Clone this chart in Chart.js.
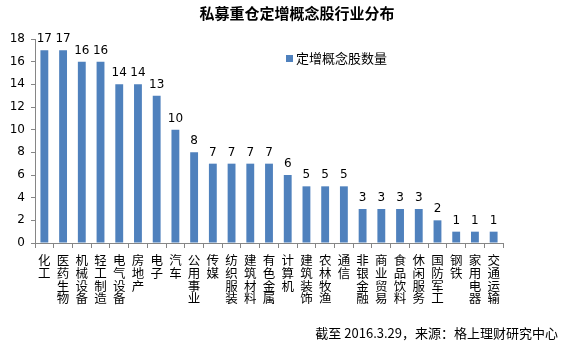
<!DOCTYPE html>
<html>
<head>
<meta charset="utf-8">
<script src="https://cdn.jsdelivr.net/npm/chart.js@4.4.0/dist/chart.umd.min.js"></script>
<style>
  html, body { margin: 0; padding: 0; background: #fff; }
  #wrap { width: 565px; height: 345px; position: relative; }
</style>
</head>
<body>
<div id="wrap"><canvas id="industryChart" width="565" height="345"></canvas></div>
<script>
// industries and number of private-placement stocks held
const categories = ["化工", "医药生物", "机械设备", "轻工制造", "电气设备", "房地产", "电子", "汽车",
  "公用事业", "传媒", "纺织服装", "建筑材料", "有色金属", "计算机", "建筑装饰", "农林牧渔", "通信",
  "非银金融", "商业贸易", "食品饮料", "休闲服务", "国防军工", "钢铁", "家用电器", "交通运输"];
const counts = [17, 17, 16, 16, 14, 14, 13, 10, 8, 7, 7, 7, 7, 6, 5, 5, 5, 3, 3, 3, 3, 2, 1, 1, 1];
const yTicks = [0, 2, 4, 6, 8, 10, 12, 14, 16, 18];

const titleText = "私募重仓定增概念股行业分布";
const seriesName = "定增概念股数量";
const footerText = "截至 2016.3.29，来源：格上理财研究中心";

const cjk = "'Noto Sans CJK SC', 'Noto Sans', sans-serif";
const num = "'DejaVu Sans', 'Liberation Sans', sans-serif";
const barColor = "#4F81BD";

// value labels above bars + title, legend, footer
const extras = {
  id: "extras",
  afterDatasetsDraw(chart) {
    const ctx = chart.ctx;
    ctx.save();
    ctx.fillStyle = "#000";
    ctx.font = "12px " + num;
    ctx.textAlign = "center";
    ctx.textBaseline = "alphabetic";
    chart.getDatasetMeta(0).data.forEach(function (bar, i) {
      ctx.fillText(String(counts[i]), bar.x, bar.y - 8);
    });
    ctx.restore();
  },
  afterDraw(chart) {
    const ctx = chart.ctx;
    ctx.save();
    ctx.fillStyle = "#000";
    ctx.textBaseline = "middle";
    ctx.textAlign = "center";
    ctx.font = "bold 15px " + cjk;
    ctx.fillText(titleText, 297, 13);

    ctx.fillStyle = barColor;
    ctx.fillRect(286, 55, 7, 7);
    ctx.fillStyle = "#000";
    ctx.textAlign = "left";
    ctx.font = "13px " + cjk;
    ctx.fillText(seriesName, 296, 58);

    ctx.textAlign = "right";
    ctx.font = "13px " + cjk;
    ctx.fillText(footerText, 558, 333);
    ctx.restore();
  }
};

document.addEventListener("DOMContentLoaded", function () {
  const ctx = document.getElementById("industryChart").getContext("2d");
  new Chart(ctx, {
    type: "bar",
    data: {
      labels: categories.map(c => c.split("")),
      datasets: [{
        label: seriesName,
        data: counts,
        backgroundColor: barColor,
        barPercentage: 0.42,
        categoryPercentage: 1.0
      }]
    },
    options: {
      responsive: false,
      animation: false,
      layout: { padding: { top: 39, right: 62, bottom: 0, left: 0 } },
      plugins: {
        legend: { display: false },
        title: { display: false },
        tooltip: { enabled: false }
      },
      scales: {
        x: {
          grid: { drawOnChartArea: false, drawTicks: true, tickLength: 5, color: "#868686" },
          border: { color: "#868686" },
          ticks: {
            color: "#000",
            font: { family: cjk, size: 12.5, lineHeight: 1.02 },
            maxRotation: 0,
            minRotation: 0,
            autoSkip: false,
            padding: 6
          },
          afterFit: function (s) { s.height = 102; }
        },
        y: {
          min: 0,
          max: 18,
          afterBuildTicks: function (s) { s.ticks = yTicks.map(v => ({ value: v })); },
          grid: { drawOnChartArea: false, drawTicks: true, tickLength: 4, color: "#868686" },
          border: { color: "#868686" },
          ticks: { color: "#000", font: { family: num, size: 12 }, padding: 6 },
          afterFit: function (s) { s.width = 35; }
        }
      }
    },
    plugins: [extras]
  });
});
</script>
</body>
</html>
